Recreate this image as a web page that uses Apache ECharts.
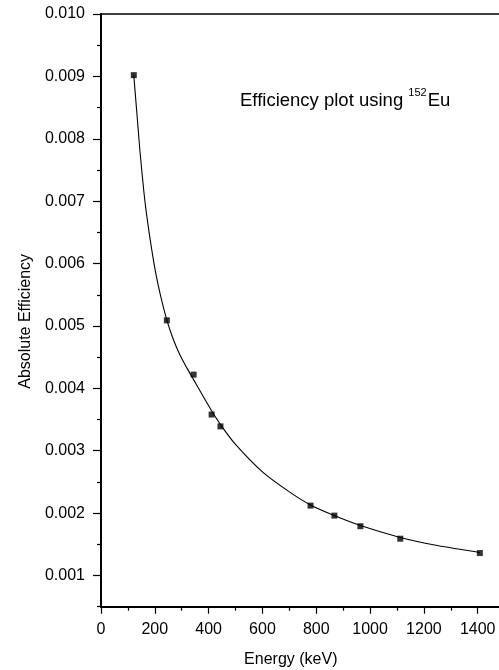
<!DOCTYPE html>
<html>
<head>
<meta charset="utf-8">
<script src="https://cdn.jsdelivr.net/npm/echarts@6/dist/echarts.min.js"></script>
<style>
html,body{margin:0;padding:0;background:#fff;}
#chart{width:499px;height:670px;}
</style>
</head>
<body>
<div id="chart"></div>
<script>
// Measured points (152Eu gamma lines)
var energyKeV = [121.8, 244.7, 344.3, 411.1, 444.0, 778.9, 867.4, 964.1, 1112.1, 1408.0];
var efficiency = [0.00902, 0.00509, 0.00422, 0.00358, 0.00339, 0.00212, 0.00196, 0.00179, 0.00159, 0.00136];

// Fitted curve
var fitEnergy = [121.8, 135, 147, 166, 197, 220, 245, 270, 294, 320, 344, 380, 411, 444, 500, 600, 700, 779, 867, 964, 1112, 1250, 1408];
var fitEff = [0.00902, 0.00832, 0.00770, 0.00690, 0.00600, 0.00551, 0.00509, 0.00477, 0.00453, 0.00432, 0.00414, 0.00387, 0.00364, 0.00342, 0.00310, 0.00266, 0.00234, 0.00213, 0.00196, 0.00180, 0.00161, 0.00148, 0.00137];

// Axis ticks
var xMajorTicks = [0, 200, 400, 600, 800, 1000, 1200, 1400];
var xMinorTicks = [100, 300, 500, 700, 900, 1100, 1300];
var yMajorTicks = [0.001, 0.002, 0.003, 0.004, 0.005, 0.006, 0.007, 0.008, 0.009, 0.010];
var yMinorTicks = [0.0005, 0.0015, 0.0025, 0.0035, 0.0045, 0.0055, 0.0065, 0.0075, 0.0085, 0.0095];

var FONT = 'Liberation Sans, Arial, sans-serif';
var chart = echarts.init(document.getElementById('chart'), null, {renderer: 'canvas'});

function zip(a, b) { return a.map(function (v, i) { return [v, b[i]]; }); }

var X_MIN = 0, X_MAX = 1500, Y_MIN = 0.0005, Y_MAX = 0.010;

chart.setOption({
  animation: false,
  backgroundColor: '#fff',
  grid: {
    left: 101, top: 14, right: -5.6, bottom: 63.3,
    outerBoundsMode: 'none', containLabel: false,
    show: true, borderColor: '#000', borderWidth: 1.5, backgroundColor: 'transparent'
  },
  xAxis: [{
    type: 'value', min: X_MIN, max: X_MAX, position: 'bottom',
    name: 'Energy (keV)', nameLocation: 'middle', nameGap: 45,
    nameTextStyle: {fontFamily: FONT, fontSize: 16, color: '#000', padding: [0, 24, 0, 0]},
    axisLine: {show: true, onZero: false, lineStyle: {color: '#000', width: 1.8}},
    axisTick: {show: true, inside: false, length: 7, customValues: xMajorTicks, lineStyle: {color: '#000', width: 1.2}},
    axisLabel: {show: true, margin: 15, customValues: xMajorTicks, fontFamily: FONT, fontSize: 16, color: '#000',
      formatter: function (v) { return String(v); }},
    splitLine: {show: false}
  }, {
    type: 'value', min: X_MIN, max: X_MAX, position: 'bottom', gridIndex: 0,
    axisLine: {show: false, onZero: false},
    axisTick: {show: true, inside: false, length: 4, customValues: xMinorTicks, lineStyle: {color: '#000', width: 1.2}},
    axisLabel: {show: false},
    splitLine: {show: false}
  }],
  yAxis: [{
    type: 'value', min: Y_MIN, max: Y_MAX, position: 'left',
    name: 'Absolute Efficiency', nameLocation: 'middle', nameGap: 67, nameRotate: 90,
    nameTextStyle: {fontFamily: FONT, fontSize: 16, color: '#000', padding: [0, 22, 0, 0]},
    axisLine: {show: true, onZero: false, lineStyle: {color: '#000', width: 2}},
    axisTick: {show: true, inside: false, length: 8, customValues: yMajorTicks, lineStyle: {color: '#000', width: 1.2}},
    axisLabel: {show: true, margin: 16, customValues: yMajorTicks, fontFamily: FONT, fontSize: 16, color: '#000',
      formatter: function (v) { return v.toFixed(3); }},
    splitLine: {show: false}
  }, {
    type: 'value', min: Y_MIN, max: Y_MAX, position: 'left', offset: 0,
    axisLine: {show: false, onZero: false},
    axisTick: {show: true, inside: false, length: 4, customValues: yMinorTicks, lineStyle: {color: '#000', width: 1.2}},
    axisLabel: {show: false},
    splitLine: {show: false}
  }],
  series: [{
    type: 'line', name: 'fit', data: zip(fitEnergy, fitEff),
    showSymbol: false, smooth: 0.3,
    lineStyle: {color: '#000', width: 1.1}, z: 2
  }, {
    type: 'scatter', name: 'data', data: zip(energyKeV, efficiency),
    symbol: 'rect', symbolSize: 6, itemStyle: {color: '#000'}, z: 3
  }],
  graphic: [{
    type: 'text', left: 240, top: 87,
    style: {
      text: '{a|Efficiency plot using }{b|152}{a|Eu}',
      rich: {
        a: {fontFamily: FONT, fontSize: 18.5, fill: '#000', lineHeight: 23, verticalAlign: 'bottom'},
        b: {fontFamily: FONT, fontSize: 11, fill: '#000', lineHeight: 23, verticalAlign: 'top', padding: [0, 1, 0, 0]}
      }
    }
  }]
});
</script>
</body>
</html>
